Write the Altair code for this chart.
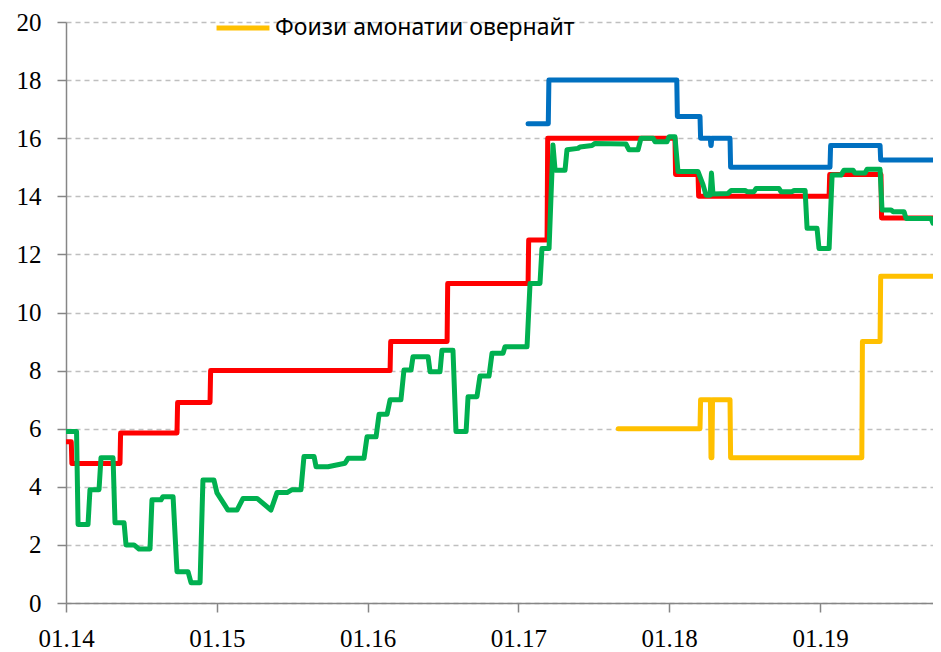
import altair as alt
import pandas as pd

# Series names (only the overnight-deposit one is visible in the legend)
S_RED = "Меъёри бозтамвил"
S_BLUE = "Фоизи қарзҳои овернайт"
S_GREEN = "Фоизи бозори байнибонкӣ"
S_YEL = "Фоизи амонатии овернайт"

X_END = 2019.749
DATA_END = 2019.80

# Step series: change times (decimal years) and new values
red_t = [2014.000, 2014.035, 2014.358, 2014.736, 2014.955, 2016.149, 2016.527,
         2017.064, 2017.190, 2018.038, 2018.191, 2019.060, 2019.404]
red_v = [5.55, 4.8, 5.85, 6.9, 8.0, 9.0, 11.0, 12.5, 16.0, 14.75, 14.0, 14.75, 13.25]

blue_t = [2017.064, 2017.198, 2018.050, 2018.204, 2018.272, 2018.278, 2018.403,
          2019.066, 2019.398]
blue_v = [16.5, 18.0, 16.75, 16.0, 15.75, 16.0, 15.0, 15.75, 15.25]

yel_t = [2017.662, 2018.204, 2018.273, 2018.283, 2018.403, 2019.277, 2019.398]
yel_v = [6.0, 7.0, 5.0, 7.0, 5.0, 9.0, 11.25]

# Interbank rate: traced points (decimal years, %)
green_x = [2014.000, 2014.070, 2014.080, 2014.146, 2014.159, 2014.219, 2014.232, 2014.312,
           2014.325, 2014.385, 2014.398, 2014.451, 2014.484, 2014.557, 2014.570, 2014.630,
           2014.643, 2014.710, 2014.736, 2014.809, 2014.829, 2014.889, 2014.908, 2014.981,
           2015.001, 2015.074, 2015.134, 2015.174, 2015.267, 2015.359, 2015.399, 2015.466,
           2015.499, 2015.558, 2015.578, 2015.645, 2015.658, 2015.737, 2015.850, 2015.870,
           2015.976, 2015.996, 2016.056, 2016.076, 2016.129, 2016.149, 2016.221, 2016.241,
           2016.288, 2016.301, 2016.401, 2016.414, 2016.480, 2016.493, 2016.566, 2016.586,
           2016.653, 2016.666, 2016.725, 2016.745, 2016.805, 2016.825, 2016.898, 2016.911,
           2017.057, 2017.077, 2017.143, 2017.156, 2017.203, 2017.229, 2017.243, 2017.309,
           2017.322, 2017.395, 2017.408, 2017.488, 2017.508, 2017.713, 2017.733, 2017.793,
           2017.813, 2017.893, 2017.906, 2017.985, 2017.999, 2018.038, 2018.058, 2018.191,
           2018.224, 2018.244, 2018.271, 2018.280, 2018.290, 2018.390, 2018.410, 2018.503,
           2018.516, 2018.562, 2018.576, 2018.728, 2018.741, 2018.814, 2018.828, 2018.901,
           2018.914, 2018.980, 2018.993, 2019.060, 2019.080, 2019.139, 2019.159, 2019.219,
           2019.232, 2019.298, 2019.312, 2019.398, 2019.411, 2019.471, 2019.484, 2019.557,
           2019.570, 2019.736, 2019.749, 2019.800]
green_y = [5.9, 5.9, 2.7, 2.7, 3.9, 3.9, 5.0, 5.0,
           2.76, 2.76, 2.0, 2.0, 1.86, 1.86, 3.55, 3.55,
           3.66, 3.66, 1.08, 1.08, 0.7, 0.7, 4.23, 4.23,
           3.79, 3.2, 3.2, 3.6, 3.6, 3.2, 3.8, 3.8,
           3.9, 3.9, 5.04, 5.04, 4.69, 4.69, 4.81, 4.98,
           4.98, 5.72, 5.72, 6.5, 6.5, 7.0, 7.0, 8.02,
           8.02, 8.48, 8.48, 7.96, 7.96, 8.7, 8.7, 5.9,
           5.9, 7.1, 7.1, 7.81, 7.81, 8.6, 8.6, 8.82,
           8.82, 11.0, 11.0, 12.2, 12.2, 15.77, 14.9, 14.9,
           15.6, 15.65, 15.7, 15.75, 15.82, 15.8, 15.6, 15.6,
           16.0, 16.0, 15.88, 15.88, 16.05, 16.05, 14.85, 14.85,
           14.4, 14.04, 14.04, 14.8, 14.08, 14.1, 14.2, 14.2,
           14.16, 14.16, 14.27, 14.27, 14.16, 14.16, 14.2, 14.2,
           12.9, 12.9, 12.2, 12.2, 14.73, 14.73, 14.9, 14.9,
           14.8, 14.8, 14.93, 14.93, 13.53, 13.53, 13.47, 13.47,
           13.24, 13.24, 13.07, 13.07]

COLORS = {S_RED: "#FF0000", S_BLUE: "#0070C0", S_GREEN: "#00B050", S_YEL: "#FFC000"}


def step_rows(name, ts, vs, end):
    rows = []
    for i, (t, v) in enumerate(zip(ts, vs)):
        if i > 0:
            rows.append((t, vs[i - 1]))
            rows.append((t + 0.004, v))
        else:
            rows.append((t, v))
    rows.append((end, vs[-1]))
    return [{"series": name, "x": x, "y": y, "i": k} for k, (x, y) in enumerate(rows)]


records = []
records += step_rows(S_RED, red_t, red_v, DATA_END)
records += step_rows(S_BLUE, blue_t, blue_v, DATA_END)
records += step_rows(S_YEL, yel_t, yel_v, DATA_END)
records += [{"series": S_GREEN, "x": x, "y": y, "i": k}
            for k, (x, y) in enumerate(zip(green_x, green_y))]
df = pd.DataFrame(records)

domain = [S_RED, S_BLUE, S_GREEN, S_YEL]
color = alt.Color(
    "series:N",
    scale=alt.Scale(domain=domain, range=[COLORS[s] for s in domain]),
    legend=alt.Legend(
        values=[S_YEL], title=None, orient="none", legendX=148, legendY=-23,
        symbolType="stroke", symbolSize=2800, symbolStrokeWidth=5,
        labelFont="Noto Sans", labelFontSize=23, labelColor="#000000",
        labelLimit=700, padding=0, labelOffset=3,
    ),
)

x_enc = alt.X(
    "x:Q",
    scale=alt.Scale(domain=[2014, X_END], nice=False, zero=False),
    axis=alt.Axis(
        title=None, values=[2014, 2015, 2016, 2017, 2018, 2019],
        labelExpr="'01.' + substring(toString(datum.value), 2, 4)",
        grid=False, tickSize=9, labelPadding=14, labelFlush=False,
    ),
)
y_enc = alt.Y(
    "y:Q",
    scale=alt.Scale(domain=[0, 20], nice=False),
    axis=alt.Axis(
        title=None, values=list(range(0, 21, 2)), grid=True,
        gridDash=[5, 4], gridColor="#BFBFBF", gridWidth=1.3,
        tickSize=9, labelPadding=16,
    ),
)

layers = []
for s in [S_RED, S_BLUE, S_YEL, S_GREEN]:
    layers.append(
        alt.Chart(df)
        .transform_filter(alt.datum.series == s)
        .mark_line(strokeWidth=5, strokeCap="round", strokeJoin="round", clip=True)
        .encode(x=x_enc, y=y_enc, color=color, order="i:Q")
    )

chart = (
    alt.layer(*layers)
    .properties(
        width=867, height=581,
        autosize=alt.AutoSizeParams(type="none"),
        padding={"left": 58, "top": 14, "right": 0, "bottom": 49},
    )
    .configure_view(stroke=None)
    .configure_axis(
        labelFont="Liberation Serif", labelFontSize=25, labelColor="#000000",
        domainColor="#868686", tickColor="#868686", domainWidth=1.5, tickWidth=1.5,
    )
)

chart.save("out.html", embed_options={"renderer": "svg", "actions": False})
